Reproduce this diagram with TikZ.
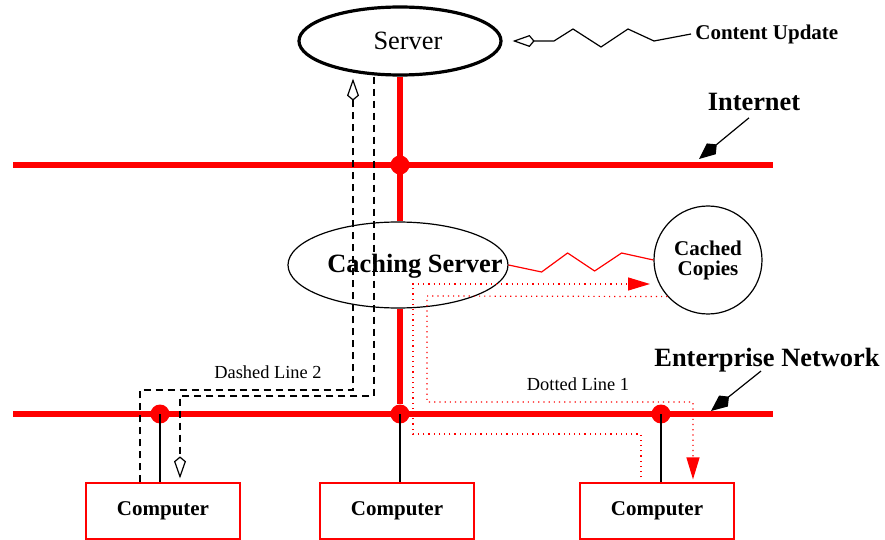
\documentclass[tikz,border=0pt]{standalone}
\usepackage{fontspec}
\setmainfont{Liberation Serif}
\usetikzlibrary{shapes.geometric,arrows.meta}

\begin{document}
\begin{tikzpicture}[x=0.5pt,y=-0.5pt,
    bus/.style={red, line width=3.2pt},
    junc/.style={circle, fill=red, inner sep=0pt, minimum size=9.5pt},
    drop/.style={black, line width=0.6pt},
    pc/.style={draw=red, line width=0.6pt, minimum width=77pt, minimum height=28pt, font=\fontsize{10.5}{12}\selectfont\bfseries},
    dashline/.style={black, line width=0.6pt, dash pattern=on 3.5pt off 2.5pt},
    dotline/.style={red, line width=0.6pt, dash pattern=on 0.6pt off 2pt},
    opentip/.style={-{Kite[open, length=11pt, width=6pt, inset=2.5pt]}},
    redtip/.style={-{Triangle[length=11pt, width=6.5pt]}},
    pointer/.style={black, line width=0.6pt, -{Kite[length=11.5pt, width=7pt, inset=3.5pt]}},
    biglbl/.style={font=\fontsize{13.2}{15}\selectfont\bfseries},
    smalllbl/.style={font=\fontsize{9.2}{11}\selectfont}]

    \useasboundingbox (0,0) rectangle (885,540);

    % hosts
    \node[ellipse, draw, line width=1.6pt, minimum width=101pt, minimum height=34pt, inner sep=0pt] (srv) at (400,41) {};
    \node[font=\fontsize{13.2}{15}\selectfont] (srvlbl) at (408,41) {Server};
    \node[ellipse, draw, line width=0.6pt, minimum width=110pt, minimum height=43pt, inner sep=0pt] (cache) at (398,265) {};
    \node[biglbl] (cachelbl) at (415,266) {Caching Server};
    \node[circle, draw, line width=0.6pt, minimum size=54pt, inner sep=0pt, align=center,
          font=\fontsize{10.5}{10}\selectfont\bfseries] (copies) at (708,260) {Cached\\Copies};

    % networks
    \coordinate (inetL) at (13,165);
    \coordinate (inetR) at (773,165);
    \coordinate (entL) at (13,414);
    \coordinate (entR) at (773,414);
    \draw[bus] (inetL) -- (inetR);
    \draw[bus] (entL) -- (entR);
    \draw[bus] (srv.south) -- (srv.south |- cache.north);
    \node[junc] (j1) at (400,165) {};
    \node[junc] (j2) at (160,414) {};
    \node[junc] (j3) at (400,414) {};
    \node[junc] (j4) at (661,414) {};
    \draw[bus] (j3 |- cache.south) -- (j3);

    % computers
    \node[pc] (comp1) at (163,511) {Computer};
    \node[pc] (comp2) at (397,511) {Computer};
    \node[pc] (comp3) at (657,511) {Computer};
    \draw[drop] (j2.center) -- (j2 |- comp1.north);
    \draw[drop] (j3.center) -- (j3 |- comp2.north);
    \draw[drop] (j4.center) -- (j4 |- comp3.north);

    % dashed line 2
    \coordinate (dA) at (353,390);
    \coordinate (dB) at (140,390);
    \coordinate (dC) at (374,396);
    \coordinate (dD) at (180,396);
    \draw[dashline, opentip, shorten >=1pt] (comp1.north -| dB) -- (dB) -- (dA) -- (dA |- srv.south);
    \draw[dashline, opentip, shorten >=2pt] (dC |- srv.south) -- (dC) -- (dD) -- (dD |- comp1.north);
    \node[smalllbl] (dashlbl) at (268,372) {Dashed Line 2};

    % dotted line 1
    \coordinate (pA) at (641,434);
    \coordinate (pB) at (413,434);
    \coordinate (pC) at (413,284);
    \coordinate (pD) at (650,284);
    \coordinate (qA) at (427,296);
    \coordinate (qB) at (427,402);
    \coordinate (qC) at (693,402);
    \draw[dotline, redtip, shorten <=2.5pt] (comp3.north -| pA) -- (pA) -- (pB) -- (pC) -- (pD);
    \draw[dotline, redtip, shorten >=1.5pt] (copies.222) -- (qA) -- (qB) -- (qC) -- (qC |- comp3.north);
    \node[smalllbl] (dotlbl) at (578,384) {Dotted Line 1};

    % cache link
    \draw[red, line width=0.6pt] (cache.east) -- ++(33,7) -- ++(26,-19) -- ++(27,18) -- ++(27,-18) -- (copies.west);

    % content update
    \node[anchor=west, inner sep=2pt, font=\fontsize{10.5}{12}\selectfont\bfseries] (cu) at (691,34) {Content Update};
    \draw[black, line width=0.6pt, opentip, shorten >=5pt] (cu.west) -- ++(-37,7) -- ++(-26,-12) -- ++(-27,18)
        -- ++(-28,-18) -- ++(-19,12) -- (srv.east);

    % labels
    \node[biglbl] (inet) at (754,102) {Internet};
    \coordinate (inetpt) at (699,159);
    \draw[pointer] ([xshift=-2.5pt]inet.south) -- (inetpt);
    \node[biglbl] (ent) at (767,360) {Enterprise Network};
    \coordinate (entpt) at (711,411);
    \draw[pointer] ([xshift=-3pt,yshift=4pt]ent.south) -- (entpt);
\end{tikzpicture}
\end{document}
